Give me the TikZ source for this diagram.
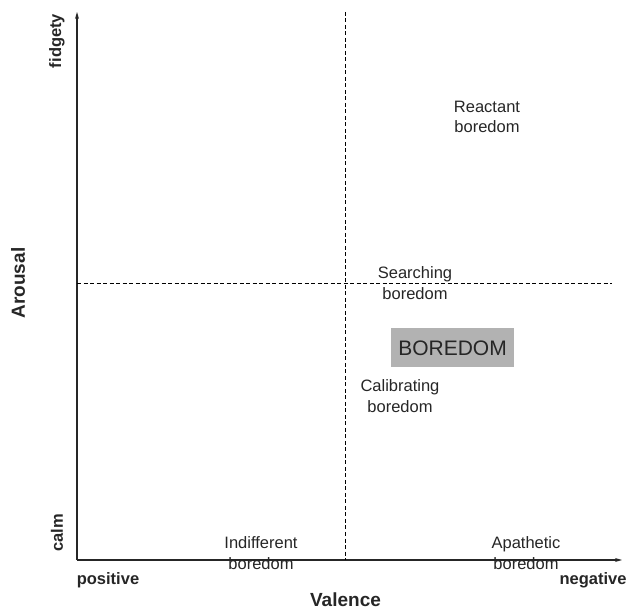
\documentclass[tikz,border=0pt]{standalone}
\usepackage{fontspec}
\setmainfont{Liberation Sans}
\usetikzlibrary{arrows.meta,positioning}

\begin{document}
\begin{tikzpicture}[x=1pt,y=-1pt,
    axis/.style={line width=1.1pt,draw=black!85,-{Stealth[length=7pt,width=4pt]}},
    split/.style={dashed,line width=0.7pt,dash pattern=on 4pt off 2.5pt},
    kind/.style={align=center,text=black!85,font=\fontsize{16.5}{20.5}\selectfont},
    pole/.style={text=black!85,font=\bfseries\fontsize{16.5}{18}\selectfont},
    heading/.style={text=black!85,font=\bfseries\fontsize{19}{21}\selectfont}]

  \useasboundingbox (0,0) rectangle (627,612);

  %% axes
  \coordinate (origin) at (77,560);
  \coordinate (ytop) at (77,12);
  \coordinate (xend) at (622,560);
  \draw[axis] (origin) -- (ytop);
  \draw[axis] (origin) -- (xend);

  %% quadrant lines
  \coordinate (vtop) at (345,12);
  \coordinate (vbot) at (345,560);
  \coordinate (hleft) at (77,283);
  \coordinate (hright) at (612,283);
  \draw[split] (vtop) -- (vbot);
  \draw[split] (hleft) -- (hright);

  %% axis labels
  \node (fidgety) [pole,rotate=90] at (57,41) {fidgety};
  \node (calm) [pole,rotate=90] at (57,533) {calm};
  \node (arousal) [heading,rotate=90] at (18,283) {Arousal};
  \node (positive) [pole] at (108,580) {positive};
  \node (negative) [pole] at (593,580) {negative};
  \node (valence) [heading,inner sep=1pt] at (345.5,600) {Valence};

  %% kinds of boredom
  \node (reactant) [kind] at (487,117) {Reactant\\boredom};
  \node (searching) [kind] at (415,283) {Searching\\boredom};
  \node (calibrating) [kind] at (400,396) {Calibrating\\boredom};
  \node (indifferent) [kind] at (261,553) {Indifferent\\boredom};
  \node (apathetic) [kind] at (526,553) {Apathetic\\boredom};

  \node (boredom) [fill=black!30,text=black!85,minimum width=123pt,minimum height=39pt,
    font=\fontsize{21}{23}\selectfont] at (452.5,348) {BOREDOM};

\end{tikzpicture}
\end{document}
